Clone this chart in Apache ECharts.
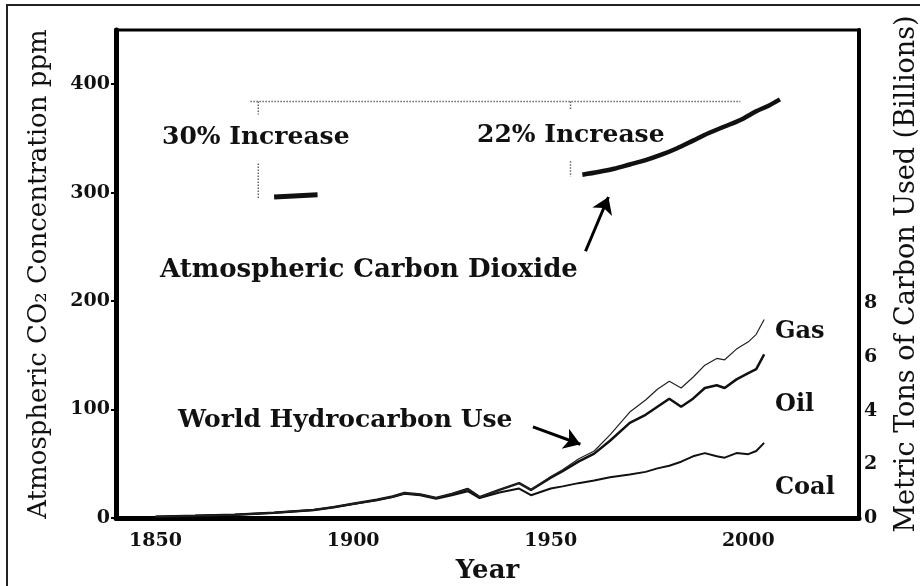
<!DOCTYPE html>
<html>
<head>
<meta charset="utf-8">
<script src="https://cdn.jsdelivr.net/npm/echarts@6/dist/echarts.min.js"></script>
<style>
  html, body { margin: 0; padding: 0; background: #fff; }
  #chart { width: 920px; height: 586px; }
</style>
</head>
<body>
<div id="chart"></div>
<script>
// hydrocarbon use, billions of metric tons of carbon (lines are cumulative: coal, +oil, +gas)
const fuelYears = [1850, 1860, 1870, 1880, 1890, 1895, 1900, 1906, 1910, 1913, 1917, 1921, 1925, 1929, 1932, 1937, 1942, 1945, 1950, 1953, 1957, 1961, 1965, 1970, 1974, 1977, 1980, 1983, 1986, 1989, 1992, 1994, 1997, 2000, 2002, 2004];
const coalUse = [0.05, 0.08, 0.12, 0.2, 0.3, 0.4, 0.52, 0.66, 0.78, 0.9, 0.85, 0.72, 0.85, 1.0, 0.74, 0.95, 1.1, 0.85, 1.1, 1.18, 1.3, 1.4, 1.52, 1.62, 1.72, 1.85, 1.95, 2.1, 2.3, 2.42, 2.3, 2.25, 2.42, 2.38, 2.5, 2.8];
const oilUse = [0.05, 0.08, 0.12, 0.2, 0.3, 0.4, 0.53, 0.68, 0.8, 0.93, 0.88, 0.75, 0.9, 1.08, 0.78, 1.05, 1.3, 1.05, 1.5, 1.75, 2.1, 2.4, 2.88, 3.55, 3.85, 4.15, 4.45, 4.15, 4.45, 4.85, 4.95, 4.85, 5.17, 5.4, 5.55, 6.1];
const gasUse = [0.05, 0.08, 0.12, 0.2, 0.3, 0.4, 0.53, 0.68, 0.8, 0.93, 0.88, 0.75, 0.9, 1.08, 0.78, 1.05, 1.3, 1.05, 1.55, 1.8, 2.2, 2.5, 3.1, 3.95, 4.4, 4.8, 5.1, 4.85, 5.25, 5.7, 5.95, 5.9, 6.3, 6.57, 6.85, 7.4];

// atmospheric CO2, ppm
const co2EarlyYears = [1880, 1885, 1891];
const co2Early = [296, 297, 298];
const co2Years = [1958, 1962, 1966, 1970, 1974, 1978, 1982, 1986, 1990, 1994, 1998, 2002, 2005, 2008];
const co2Values = [316.5, 319, 322, 326, 330, 335, 341, 348, 355, 361, 367, 375, 380, 386];

// dotted brackets for the increase notes
const bracketLevel = 384;
const bracketTopYears = [1874, 1998];
const bracket30Year = 1876;
const bracket30Parts = [[384, 372], [327, 295]];
const bracket22Year = 1955;
const bracket22Parts = [[384, 377], [329, 315]];

const xTicks = [1850, 1900, 1950, 2000];
const leftTicks = [0, 100, 200, 300, 400];
const rightTicks = [0, 2, 4, 6, 8];

const SERIF = '"DejaVu Serif", "Liberation Serif", serif';

function pairs(xs, ys) {
    return xs.map((x, i) => [x, ys[i]]);
}

var dom = document.getElementById('chart');
var myChart = echarts.init(dom, null, { renderer: 'canvas' });

let dotted = { color: '#666', width: 1.5, type: 'dotted' };
let bracketSeries = [];
bracketSeries.push(pairs(bracketTopYears, [bracketLevel, bracketLevel]));
bracket30Parts.forEach(p => bracketSeries.push(pairs([bracket30Year, bracket30Year], p)));
bracket22Parts.forEach(p => bracketSeries.push(pairs([bracket22Year, bracket22Year], p)));

function txt(text, x, y, size, weight) {
    return {
        type: 'text', x: x, y: y, silent: true,
        style: {
            text: text, fill: '#111',
            font: (weight || 'bold') + ' ' + size + 'px ' + SERIF,
            align: 'left', verticalAlign: 'middle'
        }
    };
}

let option = {
    animation: false,
    backgroundColor: '#fff',
    grid: {
        left: 116, right: 61, top: 30, bottom: 68,
        outerBoundsMode: 'none', containLabel: false,
        show: true, borderColor: '#000', borderWidth: 3
    },
    graphic: [
        { type: 'rect', silent: true, shape: { x: 7, y: 5, width: 930, height: 600 },
          style: { fill: null, stroke: '#222', lineWidth: 2 } },
        txt('30% Increase', 162, 137, 25),
        txt('22% Increase', 477, 135, 25),
        txt('Atmospheric Carbon Dioxide', 160, 270, 26),
        txt('World Hydrocarbon Use', 178, 420, 25),
        txt('Gas', 775, 332, 24),
        txt('Oil', 775, 405, 24),
        txt('Coal', 775, 488, 24)
    ],
    xAxis: {
        type: 'value', min: 1840, max: 2028, interval: 10,
        name: 'Year', nameLocation: 'middle', nameGap: 40,
        nameTextStyle: { fontFamily: SERIF, fontSize: 26, fontWeight: 'bold', color: '#111' },
        axisLine: { onZero: false, lineStyle: { color: '#000', width: 5 } },
        axisTick: { show: false },
        splitLine: { show: false },
        axisLabel: {
            margin: 14, fontFamily: SERIF, fontSize: 19, fontWeight: 'bold', color: '#111',
            formatter: v => xTicks.includes(v) ? String(v) : ''
        }
    },
    yAxis: [
        {
            type: 'value', min: 0, max: 450, interval: 100, position: 'left',
            name: 'Atmospheric CO₂ Concentration ppm', nameLocation: 'middle', nameGap: 64,
            nameTextStyle: { fontFamily: SERIF, fontSize: 26, color: '#111' },
            axisLine: { show: true, onZero: false, lineStyle: { color: '#000', width: 5 } },
            axisTick: { show: true, length: 5, lineStyle: { color: '#000', width: 2 } },
            splitLine: { show: false },
            axisLabel: {
                margin: 6, fontFamily: SERIF, fontSize: 19, fontWeight: 'bold', color: '#111',
                showMaxLabel: false,
                formatter: v => leftTicks.includes(v) ? String(v) : ''
            }
        },
        {
            type: 'value', min: 0, max: 18.2, interval: 2, position: 'right',
            name: 'Metric Tons of Carbon Used (Billions)', nameLocation: 'middle', nameGap: 34,
            nameTextStyle: { fontFamily: SERIF, fontSize: 27, color: '#111' },
            axisLine: { show: true, onZero: false, lineStyle: { color: '#000', width: 4 } },
            axisTick: { show: false },
            splitLine: { show: false },
            axisLabel: {
                margin: 5, fontFamily: SERIF, fontSize: 19, fontWeight: 'bold', color: '#111',
                showMaxLabel: false,
                formatter: v => rightTicks.includes(v) ? String(v) : ''
            }
        }
    ],
    series: [
        {
            name: 'CO2 early', type: 'line', yAxisIndex: 0, showSymbol: false, silent: true,
            data: pairs(co2EarlyYears, co2Early),
            lineStyle: { color: '#111', width: 5 }
        },
        {
            name: 'CO2', type: 'line', yAxisIndex: 0, showSymbol: false, silent: true, smooth: 0.3,
            data: pairs(co2Years, co2Values),
            lineStyle: { color: '#111', width: 4.5 },
            markLine: {
                silent: true, symbol: ['none', 'arrow'], symbolSize: 16,
                label: { show: false },
                itemStyle: { color: '#000' },
                lineStyle: { color: '#000', width: 3, type: 'solid' },
                data: [
                    [{ coord: [1958.8, 246] }, { coord: [1964.6, 296] }],
                    [{ coord: [1945.5, 84] }, { coord: [1957.5, 68] }]
                ]
            }
        },
        {
            name: 'Coal', type: 'line', yAxisIndex: 1, showSymbol: false, silent: true,
            data: pairs(fuelYears, coalUse),
            lineStyle: { color: '#111', width: 2 }
        },
        {
            name: 'Oil', type: 'line', yAxisIndex: 1, showSymbol: false, silent: true,
            data: pairs(fuelYears, oilUse),
            lineStyle: { color: '#111', width: 2.5 }
        },
        {
            name: 'Gas', type: 'line', yAxisIndex: 1, showSymbol: false, silent: true,
            data: pairs(fuelYears, gasUse),
            lineStyle: { color: '#222', width: 1.2 }
        }
    ].concat(bracketSeries.map((d, i) => ({
        name: 'bracket' + i, type: 'line', yAxisIndex: 0, showSymbol: false, silent: true,
        data: d, lineStyle: dotted
    })))
};

if (option && typeof option === 'object') {
    myChart.setOption(option, true);
}
</script>
</body>
</html>
